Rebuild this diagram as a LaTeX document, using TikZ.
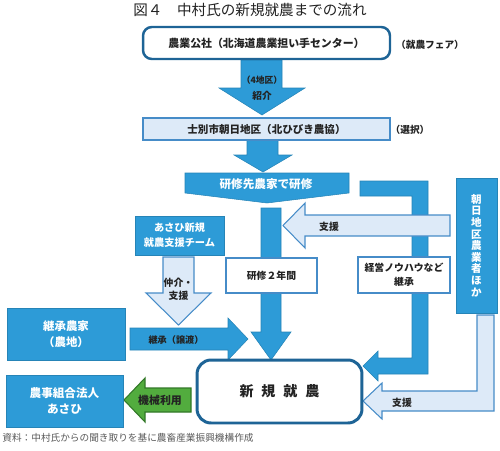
\documentclass[tikz,border=0pt]{standalone}
\usepackage{fontspec}
\setmainfont{Noto Sans CJK JP}
\definecolor{cblue}{RGB}{45,155,215}
\definecolor{cdark}{RGB}{30,100,150}
\definecolor{clight}{RGB}{221,234,248}
\definecolor{cline}{RGB}{70,140,200}
\definecolor{cgreen}{RGB}{82,172,62}
\definecolor{cgreendark}{RGB}{50,120,40}
\definecolor{ctext}{RGB}{35,35,35}
\tikzset{
  bluefill/.style={fill=cblue, draw=cblue!85!black, line width=0.3pt},
  lightfill/.style={fill=clight, draw=cline, line width=0.6pt},
  greenfill/.style={fill=cgreen, draw=cgreendark, line width=0.6pt},
  roundbox/.style={draw=cdark, line width=1.4pt, fill=white, rounded corners=5pt,
    inner sep=0pt, text=ctext, font=\bfseries\fontsize{6.2}{7.5}\selectfont},
  bluebox/.style={bluefill, text=white, align=center, inner sep=0pt},
  whitebox/.style={draw=cline, line width=0.6pt, fill=white, align=center,
    inner sep=0pt, text=ctext},
  tag/.style={inner sep=0pt, align=center, text=ctext},
}
\begin{document}
\begin{tikzpicture}[x=0.02cm,y=-0.02cm]
  \useasboundingbox (0,0) rectangle (500,450);
  \node[tag, font=\fontsize{8.3}{10}\selectfont] (title) at (250,10)
    {図４　中村氏の新規就農までの流れ};

  % fat arrows
  \begin{scope}
    \draw[bluefill] (241,60) -- (282,60) -- (282,88) -- (305,88) -- (262,115)
      -- (219,88) -- (241,88) -- cycle;
    \draw[bluefill] (247,140) -- (278,140) -- (278,155) -- (292,155) -- (263,172)
      -- (234,155) -- (247,155) -- cycle;
    \draw[bluefill] (185,173) -- (349,173) -- (349,193) -- (267,203)
      -- (185,193) -- cycle;
    \draw[bluefill] (261,208) -- (281,208) -- (281,332) -- (291,332) -- (271,360)
      -- (251,332) -- (261,332) -- cycle;
    \draw[bluefill] (360,181) -- (428,181) -- (428,374) -- (378,374) -- (378,381)
      -- (363,366) -- (378,351) -- (378,358) -- (412,358) -- (412,196)
      -- (360,196) -- cycle;
    \draw[lightfill] (450,215) -- (450,236) -- (305,236) -- (305,248) -- (283,225.5)
      -- (305,203) -- (305,215) -- cycle;
    \draw[lightfill] (477,315) -- (494,315) -- (494,411) -- (382,411) -- (382,419)
      -- (363,401) -- (382,383) -- (382,391) -- (477,391) -- cycle;
    \draw[lightfill] (163,257) -- (194,257) -- (194,293) -- (211,293) -- (178.5,325)
      -- (146,293) -- (163,293) -- cycle;
    \draw[bluefill] (130,328) -- (228,328) -- (228,318) -- (248,339) -- (228,360)
      -- (228,350) -- (130,350) -- cycle;
    \draw[greenfill] (191,388) -- (191,412) -- (145,412) -- (145,422) -- (124,400)
      -- (145,378) -- (145,388) -- cycle;
  \end{scope}

  % boxes
  \node[roundbox, minimum width=4.94cm, minimum height=0.64cm] (kosha) at (266.5,43)
    {農業公社（北海道農業担い手センター）};
  \node[whitebox, fill=clight, minimum width=4.94cm, minimum height=0.44cm,
    font=\bfseries\fontsize{6}{7}\selectfont] (chiku) at (266.5,129)
    {士別市朝日地区（北ひびき農協）};
  \node[tag, text=white, font=\bfseries\fontsize{6.6}{8}\selectfont] (kenshu) at (266,184)
    {研修先農家で研修};
  \node[whitebox, minimum width=1.82cm, minimum height=0.7cm,
    font=\bfseries\fontsize{5.6}{7}\selectfont] (nenkan) at (271.5,275.5) {研修２年間};
  \node[whitebox, minimum width=1.84cm, minimum height=0.72cm,
    font=\bfseries\fontsize{5.6}{8}\selectfont] (keiei) at (404,275)
    {経営ノウハウなど\\継承};
  \node[bluebox, minimum width=0.82cm, minimum height=2.7cm,
    font=\bfseries\fontsize{6}{6.6}\selectfont] (nogyosha) at (476.5,245.5)
    {朝\\日\\地\\区\\農\\業\\者\\ほ\\か};
  \node[bluebox, minimum width=1.78cm, minimum height=0.78cm,
    font=\bfseries\fontsize{5.8}{8.5}\selectfont] (team) at (179.5,235.5)
    {あさひ新規\\就農支援チーム};
  \node[bluebox, minimum width=2.36cm, minimum height=1.04cm,
    font=\bfseries\fontsize{6.5}{9}\selectfont] (keisho) at (66,334)
    {継承農家\\（農地）};
  \node[bluebox, minimum width=2.34cm, minimum height=1.04cm,
    font=\bfseries\fontsize{6.6}{9}\selectfont] (hojin) at (64.5,401)
    {農事組合法人\\あさひ};
  \node[roundbox, rounded corners=8pt, line width=1.7pt, minimum width=3.3cm,
    minimum height=1.26cm, font=\bfseries\fontsize{8}{9}\selectfont] (shinki) at (279.5,391.5)
    {新\hspace{4.5pt}規\hspace{4.5pt}就\hspace{4.5pt}農};

  % labels
  \node[tag, font=\bfseries\fontsize{5.5}{7}\selectfont] (fair) at (430,45) {（就農フェア）};
  \node[tag, font=\bfseries\fontsize{5.5}{7}\selectfont] (sentaku) at (410,130) {（選択）};
  \node[tag, font=\bfseries\fontsize{5}{6}\selectfont] (yonchiku) at (262,80) {（4地区）};
  \node[tag, font=\bfseries\fontsize{5.5}{7}\selectfont] (shokai) at (262,96) {紹介};
  \node[tag, font=\bfseries\fontsize{5.6}{7}\selectfont] (shien1) at (329,227) {支援};
  \node[tag, font=\bfseries\fontsize{5.6}{7}\selectfont] (shien2) at (402,403) {支援};
  \node[tag, font=\bfseries\fontsize{5.6}{7.4}\selectfont] (chukai) at (178.5,289.5)
    {仲介・\\支援};
  \node[tag, font=\bfseries\fontsize{5.2}{6}\selectfont] (joto) at (176,340) {継承（譲渡）};
  \node[tag, font=\bfseries\fontsize{6.2}{7}\selectfont] (kikai) at (160,400) {機械利用};
  \node[tag, anchor=west, text=black!65, font=\fontsize{5.5}{7}\selectfont] (shiryo) at (2,438)
    {資料：中村氏からの聞き取りを基に農畜産業振興機構作成};
\end{tikzpicture}
\end{document}
